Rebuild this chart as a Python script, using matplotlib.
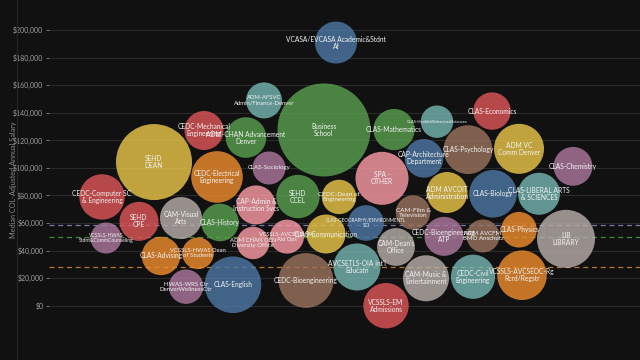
import numpy as np
import matplotlib
matplotlib.use("Agg")
import matplotlib.pyplot as plt

# ---------------- data ----------------
labels = [
    "VCASA/EVCASA Academic&Stdnt\nAf", "Business\nSchool", "ADM-AFSVC\nAdmin/Finance-Denver",
    "ADM-CHAN Advancement\nDenver", "CEDC-Mechanical\nEngineering", "SEHD\nDEAN",
    "CEDC-Electrical\nEngineering", "CLAS-Sociology", "SEHD\nCCEL", "CEDC-Dean of\nEngineering",
    "SPA -\nOTHER", "CLAS-Mathematics", "CLAS-Health&BehavioralSciences",
    "CAP-Architecture\nDepartment", "CLAS-Economics", "CLAS-Psychology", "ADM VC\nComm Denver",
    "CLAS-Chemistry", "ADM AVCOIT\nAdministration", "CLAS-Biology", "CLAS-LIBERAL ARTS\n& SCIENCES",
    "CLAS-Physics", "LIB\nLIBRARY", "ADM AVCFM\nBMO Anschutz", "CEDC-Bioengineering\nATP",
    "CAM-Film &\nTelevision", "CLAS-GEOGRAPHY/ENVIRONMENTL\nSCI", "CAM-Dean's\nOffice",
    "CLAS-Communication", "VCSSLS-AVCSE Ed Fin\nAid Ops", "ADM CHAN DEN\nDiversity Office",
    "CAP-Admin &\nInstruction Svcs", "CLAS-History", "CAM-Visual\nArts", "SEHD\nCPE",
    "CEDC-Computer SC\n& Engineering", "VCSSLS-HWAS\nStdnt&CommCounseling", "CLAS-Advising",
    "VCSSLS-HWAS Dean\nof Students", "HWAS-WRS Ctr\nDenverWellnessCtr", "CLAS-English",
    "CEDC-Bioengineering", "AVCSETLS-OIA Int'l\nEducatn", "VCSSLS-EM\nAdmissions",
    "CAM-Music &\nEntertainment", "CEDC-Civil\nEngineering", "VCSSLS-AVCSEOC-Rg\nRcrd/Regstr",
]
salary = [
    190900, 127500, 148900, 122000, 127100, 104200, 93400, 99900, 79200, 78900,
    92400, 127800, 133500, 106900, 141200, 113200, 113800, 101100, 82100, 81200,
    81200, 55100, 48500, 50600, 50300, 67600, 60000, 42600, 52000, 50100,
    45500, 73100, 60400, 63600, 61200, 78900, 49100, 36100, 38000, 13800,
    15200, 18300, 28100, 0, 19900, 21000, 22100,
]
x_pos = [
    287, 275, 215, 197, 155, 105, 168, 220, 249, 290,
    333, 345, 388, 375, 443, 419, 470, 524, 398, 444,
    490, 470, 517, 434, 395, 364, 317, 347, 277, 238,
    204, 207, 171, 132, 90, 53, 57, 112, 149, 137,
    184, 257, 308, 337, 377, 424, 473,
]
bubble_size = [
    21, 46.5, 18, 20.3, 19.5, 38, 25.8, 16.5, 21.7, 17.2,
    26.5, 20.6, 16.2, 19.3, 18.7, 24.4, 25, 19.4, 20.5, 23.8,
    21, 17.8, 29, 16.5, 19.5, 17.2, 17.8, 18.9, 19.5, 17,
    16.2, 19.5, 18.8, 21, 19.5, 22.7, 15.5, 19.2, 15.8, 17.2,
    28.3, 27.4, 23.5, 22.7, 23, 22.1, 24.8,
]
color_group = [
    "blue", "green", "teal", "green", "red", "yellow", "orange", "purple", "green", "yellow",
    "pink", "green", "teal", "blue", "red", "brown", "yellow", "purple", "yellow", "blue",
    "teal", "orange", "gray", "brown", "purple", "brown", "blue", "gray", "yellow", "pink",
    "pink", "pink", "green", "gray", "red", "red", "purple", "orange", "orange", "purple",
    "blue", "brown", "teal", "red", "gray", "teal", "orange",
]
ref_lines = [58500, 50000, 28300]
y_ticks = list(range(0, 200001, 20000))

palette = {
    "blue": "#4e79a7", "orange": "#f28e2c", "red": "#e15759", "teal": "#76b7b2",
    "green": "#59a14f", "yellow": "#edc949", "purple": "#af7aa1", "pink": "#ff9da7",
    "brown": "#9c755f", "gray": "#bab0ab",
}
ref_colors = ["#7d78a8", "#3f8a3a", "#b8752e"]

# ---------------- figure ----------------
plt.rcParams["font.family"] = ["Lato", "DejaVu Sans"]
bg = "#111111"
fig = plt.figure(figsize=(6.4, 3.6), dpi=100, facecolor=bg)
ax = fig.add_axes([49 / 640, 0, 591 / 640, 1])
ax.set_facecolor(bg)
ax.set_xlim(0, 591)
px = 200000 / 275.7
ax.set_ylim(-54.3 * px, 200000 + 30 * px)

for s in ax.spines.values():
    s.set_visible(False)

ax.set_yticks(y_ticks)
ax.set_yticklabels([f"${v:,.0f}" for v in y_ticks])
ax.tick_params(axis="y", colors="#777777", labelcolor="#a0a0a0", labelsize=5.0,
               length=2.5, width=0.7, pad=1.5)
ax.set_xticks([])
for v in y_ticks:
    ax.axhline(v, color="#2a2a2a", lw=0.8, zorder=0)

for v, c in zip(ref_lines, ref_colors):
    ax.axhline(v, color=c, lw=0.9, dashes=(4, 3), zorder=1)

pt = 72 / 100
sizes = [(2 * r * pt) ** 2 for r in bubble_size]
cols = [palette[g] for g in color_group]
ax.scatter(x_pos, salary, s=sizes, c=cols, alpha=0.8, linewidths=0, zorder=2)

for lab, x, y, r in zip(labels, x_pos, salary, bubble_size):
    n = max(len(l) for l in lab.split("\n"))
    fs_px = min(6.7, 0.37 * r)
    if r < 19 and n > 16:
        fs_px *= (16 / n) ** 0.6
    ax.text(x, y, lab, ha="center", va="center", color="#f2f2f2",
            fontsize=fs_px * pt, linespacing=1.0, zorder=3)

fig.text(14 / 640, 0.5, "Median COL-Adjusted Annual Salary", rotation=90,
         ha="center", va="center", color="#8a8a8a", fontsize=5.2)
fig.add_artist(plt.Line2D([16.5 / 640, 16.5 / 640], [0, 1], color="#262626", lw=0.8))

fig.savefig("out.png", dpi=100, facecolor=bg)
